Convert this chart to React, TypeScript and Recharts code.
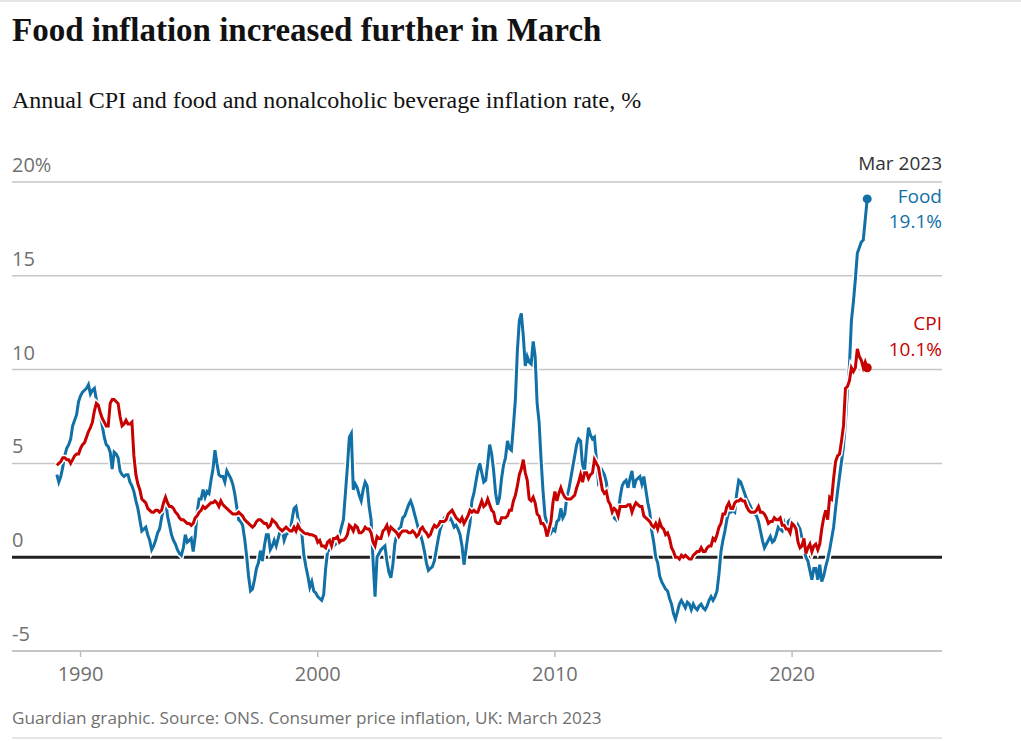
import { LineChart, Line, XAxis, YAxis, CartesianGrid, ReferenceLine } from 'recharts'

// Monthly annual rates, Jan 1989 – Mar 2023
const START_YEAR = 1989

const cpi = [
  4.9, 5.0, 5.1, 5.3, 5.3, 5.2, 5.2, 5.0, 5.2, 5.4, 5.5, 5.5, // 1989
  5.8, 6.0, 6.1, 6.4, 6.7, 6.9, 7.2, 7.8, 8.2, 8.1, 7.7, 7.4, // 1990
  7.2, 7.0, 7.0, 8.2, 8.4, 8.4, 8.3, 8.2, 7.5, 7.0, 7.1, 7.3, // 1991
  7.1, 7.1, 7.2, 5.4, 4.4, 3.9, 3.6, 3.1, 3.0, 2.9, 2.6, 2.5, // 1992
  2.4, 2.4, 2.5, 2.5, 2.4, 2.5, 2.9, 3.2, 2.9, 2.7, 2.7, 2.6, // 1993
  2.4, 2.3, 2.1, 2.0, 2.0, 1.9, 1.8, 1.8, 1.7, 1.8, 2.1, 2.2, // 1994
  2.4, 2.5, 2.7, 2.6, 2.7, 2.8, 2.9, 2.9, 3.0, 2.9, 2.7, 3.0, // 1995
  2.8, 2.7, 2.6, 2.5, 2.4, 2.3, 2.3, 2.3, 2.4, 2.3, 2.2, 2.0, // 1996
  1.9, 1.8, 1.7, 1.6, 1.7, 1.9, 2.0, 2.0, 1.9, 1.8, 1.8, 1.6, // 1997
  1.7, 2.0, 1.9, 1.8, 1.6, 1.5, 1.4, 1.5, 1.6, 1.5, 1.4, 1.4, // 1998
  1.6, 1.4, 1.7, 1.5, 1.4, 1.3, 1.25, 1.25, 1.2, 1.2, 1.15, 1.1, // 1999
  0.8, 0.9, 0.6, 0.6, 0.5, 0.8, 0.9, 0.6, 1.0, 1.0, 1.1, 0.8, // 2000
  0.9, 0.9, 1.0, 1.2, 1.7, 1.6, 1.4, 1.7, 1.6, 1.3, 1.3, 1.4, // 2001
  1.6, 1.5, 1.5, 1.3, 0.8, 0.6, 1.1, 1.0, 1.0, 1.4, 1.5, 1.7, // 2002
  1.3, 1.6, 1.5, 1.4, 1.3, 1.1, 1.3, 1.4, 1.4, 1.4, 1.3, 1.3, // 2003
  1.4, 1.3, 1.1, 1.2, 1.5, 1.6, 1.4, 1.3, 1.1, 1.2, 1.5, 1.7, // 2004
  1.6, 1.7, 1.9, 1.9, 1.9, 2.0, 2.3, 2.4, 2.5, 2.3, 2.1, 2.0, // 2005
  1.9, 2.1, 1.8, 2.0, 2.2, 2.5, 2.4, 2.5, 2.4, 2.4, 2.7, 3.0, // 2006
  2.7, 2.8, 3.1, 2.8, 2.5, 2.4, 1.9, 1.8, 1.8, 2.1, 2.1, 2.1, // 2007
  2.2, 2.5, 2.5, 3.0, 3.3, 3.8, 4.4, 4.7, 5.2, 4.5, 4.1, 3.1, // 2008
  3.0, 3.2, 2.9, 2.3, 2.2, 1.8, 1.8, 1.6, 1.1, 1.5, 1.9, 2.9, // 2009
  3.5, 3.0, 3.4, 3.7, 3.4, 3.2, 3.1, 3.1, 3.1, 3.2, 3.3, 3.7, // 2010
  4.0, 4.4, 4.0, 4.5, 4.5, 4.2, 4.4, 4.5, 5.2, 5.0, 4.8, 4.2, // 2011
  3.6, 3.4, 3.5, 3.0, 2.8, 2.4, 2.6, 2.5, 2.2, 2.7, 2.7, 2.7, // 2012
  2.7, 2.8, 2.8, 2.4, 2.7, 2.9, 2.8, 2.7, 2.7, 2.2, 2.1, 2.0, // 2013
  1.9, 1.7, 1.6, 1.8, 1.5, 1.9, 1.6, 1.5, 1.2, 1.3, 1.0, 0.5, // 2014
  0.3, 0.0, 0.0, -0.1, 0.1, 0.0, 0.1, 0.0, -0.1, -0.1, 0.1, 0.2, // 2015
  0.3, 0.3, 0.5, 0.3, 0.3, 0.5, 0.6, 0.6, 1.0, 0.9, 1.2, 1.6, // 2016
  1.8, 2.3, 2.3, 2.7, 2.9, 2.6, 2.6, 2.9, 3.0, 3.0, 3.1, 3.0, // 2017
  3.0, 2.7, 2.5, 2.4, 2.4, 2.4, 2.5, 2.7, 2.4, 2.4, 2.3, 2.1, // 2018
  1.8, 1.9, 1.9, 2.1, 2.0, 2.0, 2.1, 1.7, 1.7, 1.5, 1.5, 1.3, // 2019
  1.8, 1.7, 1.5, 0.8, 0.5, 0.6, 1.0, 0.2, 0.5, 0.7, 0.3, 0.6, // 2020
  0.7, 0.4, 0.7, 1.5, 2.1, 2.5, 2.0, 3.2, 3.1, 4.2, 5.1, 5.4, // 2021
  5.5, 6.2, 7.0, 9.0, 9.1, 9.4, 10.1, 9.9, 10.1, 11.1, 10.7, 10.5, // 2022
  10.1, 10.4, 10.1, // 2023
]

const food = [
  4.4, 4.0, 4.3, 4.8, 5.4, 5.8, 6.0, 6.3, 7.0, 7.3, 7.6, 8.3, // 1989
  8.6, 8.8, 8.9, 9.0, 9.2, 8.7, 8.9, 9.0, 8.4, 8.0, 7.6, 7.0, // 1990
  6.4, 6.0, 5.9, 5.6, 4.7, 5.6, 5.5, 5.3, 4.6, 4.4, 4.3, 4.4, // 1991
  4.4, 4.0, 3.8, 3.5, 3.0, 2.6, 2.0, 1.4, 1.5, 1.6, 1.2, 0.9, // 1992
  0.4, 0.6, 0.9, 1.3, 1.5, 2.1, 2.6, 3.1, 2.2, 1.7, 1.2, 0.9, // 1993
  0.7, 0.4, 0.2, 0.1, 0.5, 1.2, 0.8, 0.9, 1.0, 0.3, 1.1, 2.4, // 1994
  3.1, 3.1, 3.6, 3.2, 3.5, 3.4, 4.1, 4.7, 5.7, 5.0, 4.4, 4.3, // 1995
  4.3, 4.0, 4.6, 4.4, 4.2, 3.9, 3.4, 2.7, 2.0, 1.9, 1.7, 1.0, // 1996
  0.1, -1.0, -1.8, -1.7, -1.2, -0.6, -0.3, 0.35, -0.2, 0.6, 1.2, 1.2, // 1997
  0.4, 0.6, 0.9, 0.6, 1.0, 1.4, 1.5, 0.9, 1.2, 1.3, 1.4, 2.0, // 1998
  2.6, 2.7, 2.1, 1.6, 1.2, 0.1, -0.5, -1.0, -1.6, -1.3, -1.8, -1.9, // 1999
  -2.1, -2.2, -2.3, -2.0, -0.6, 0.3, 0.4, 0.5, 0.6, 0.7, 1.0, 1.2, // 2000
  1.6, 2.0, 3.4, 4.8, 6.4, 6.6, 3.6, 3.9, 3.7, 3.3, 3.0, 3.6, // 2001
  4.0, 3.8, 2.7, 2.0, -0.2, -2.1, 0.0, 0.2, 0.4, 0.5, 0.6, -0.2, // 2002
  -0.8, -1.1, -0.4, 0.7, 1.2, 1.5, 1.6, 2.1, 2.2, 2.5, 2.8, 3.0, // 2003
  2.7, 2.3, 1.9, 1.5, 1.2, 0.8, 0.3, -0.3, -0.7, -0.6, -0.5, -0.2, // 2004
  0.4, 1.0, 1.5, 1.8, 2.1, 2.2, 2.0, 2.1, 1.9, 1.6, 1.7, 1.5, // 2005
  1.2, 0.6, -0.4, 0.4, 1.2, 1.8, 3.0, 3.4, 4.0, 4.6, 5.0, 4.5, // 2006
  4.0, 4.1, 5.0, 6.0, 5.5, 4.6, 3.4, 2.8, 3.2, 4.2, 4.9, 5.3, // 2007
  6.2, 5.8, 5.7, 7.0, 8.4, 11.0, 12.6, 13.0, 11.8, 10.2, 10.7, 10.4, // 2008
  10.3, 11.5, 10.7, 8.2, 7.2, 5.2, 3.5, 2.2, 1.8, 1.6, 1.3, 1.5, // 2009
  1.4, 1.9, 2.0, 2.6, 2.1, 2.3, 3.2, 3.6, 4.2, 4.8, 5.4, 6.0, // 2010
  6.3, 6.2, 4.8, 4.6, 5.9, 6.9, 6.5, 6.3, 6.4, 5.2, 4.0, 4.2, // 2011
  4.6, 4.4, 4.0, 3.2, 2.7, 2.2, 2.1, 2.0, 2.4, 3.2, 3.8, 4.0, // 2012
  4.1, 3.7, 4.2, 4.6, 3.7, 4.1, 4.2, 4.3, 3.9, 4.3, 3.6, 2.9, // 2013
  2.4, 1.4, 0.8, 0.0, -0.3, -1.0, -1.3, -1.5, -1.7, -1.8, -2.2, -2.5, // 2014
  -3.0, -3.3, -2.9, -2.5, -2.3, -2.5, -2.7, -2.4, -2.5, -2.8, -2.5, -2.7, // 2015
  -2.8, -2.6, -2.5, -2.7, -2.8, -2.6, -2.3, -2.1, -2.3, -2.1, -1.8, -0.9, // 2016
  0.3, 0.9, 1.4, 2.0, 2.4, 2.4, 2.5, 2.4, 3.4, 4.1, 4.0, 3.7, // 2017
  3.4, 3.1, 2.9, 2.7, 2.4, 2.3, 2.2, 1.9, 1.4, 0.9, 0.5, 0.7, // 2018
  0.9, 1.1, 0.8, 0.9, 1.2, 1.6, 1.5, 1.4, 1.8, 1.4, 1.9, 2.0, // 2019
  1.8, 1.4, 1.3, 1.7, 1.5, 1.0, 0.4, 0.0, -0.2, -0.7, -1.2, -0.6, // 2020
  -0.6, -1.2, -0.4, -1.3, -1.0, -0.5, -0.1, 0.4, 1.0, 1.6, 2.6, 3.5, // 2021
  4.3, 5.1, 5.9, 7.2, 8.9, 10.2, 12.6, 13.6, 14.8, 16.2, 16.5, 16.8, // 2022
  16.9, 18.0, 19.1, // 2023
]

const yTicks = [-5, 0, 5, 10, 15, 20]
const xTicks = [1990, 2000, 2010, 2020]

const BLUE = '#1170a6'
const RED = '#c70000'
const GREY = '#707070'
const SANS = '"Open Sans", sans-serif'
const SERIF = '"Liberation Serif", serif'

const data = cpi.map((v, i) => ({ t: START_YEAR + i / 12, cpi: v, food: food[i] }))
const last = data.length - 1

const endDot = (color: string) => (props: any) =>
  props.index === last ? (
    <circle key="end" cx={props.cx} cy={props.cy} r={4.5} fill={color} />
  ) : (
    <g key={`d-${props.index}`} />
  )

const renderYTick = (props: any) => {
  const v = props.payload?.value
  return (
    <text key={`yt-${v}`} x={12} y={props.y - 10} fill={GREY} fontSize={20} fontFamily={SANS} textAnchor="start">
      {v === 20 ? '20%' : v}
    </text>
  )
}

export default function App() {
  return (
    <div style={{ position: 'absolute', left: 0, top: 0, width: 1021, height: 741, background: '#fff' }}>
      <LineChart width={1021} height={741} data={data} margin={{ top: 182, right: 79, left: 11, bottom: 0 }}>
        <CartesianGrid horizontal vertical={false} stroke="#c6c6c6" strokeWidth={1.5} />
        <XAxis
          dataKey="t"
          type="number"
          domain={[1987.11, 2026.32]}
          allowDataOverflow
          ticks={xTicks}
          height={90}
          axisLine={{ stroke: '#c6c6c6', strokeWidth: 2 }}
          tickLine={{ stroke: '#bdbdbd', strokeWidth: 1.5 }}
          tickSize={6}
          tickMargin={10}
          tick={{ fill: GREY, fontSize: 20, fontFamily: SANS }}
        />
        <YAxis
          type="number"
          domain={[-5, 20]}
          ticks={yTicks}
          width={1}
          axisLine={false}
          tickLine={false}
          tick={renderYTick}
        />
        <ReferenceLine y={0} stroke="#222" strokeWidth={3} />
        <Line dataKey="food" stroke="#fff" strokeWidth={6} dot={false} isAnimationActive={false} />
        <Line dataKey="food" stroke={BLUE} strokeWidth={3} dot={endDot(BLUE)} isAnimationActive={false} />
        <Line dataKey="cpi" stroke="#fff" strokeWidth={6} dot={false} isAnimationActive={false} />
        <Line dataKey="cpi" stroke={RED} strokeWidth={3} dot={endDot(RED)} isAnimationActive={false} />
      </LineChart>
      <svg width={1021} height={741} style={{ position: 'absolute', left: 0, top: 0, pointerEvents: 'none' }}>
        <line x1={0} x2={1021} y1={1} y2={1} stroke="#dcdcdc" strokeWidth={1.5} />
        <text x={12} y={41} fontFamily={SERIF} fontWeight={700} fontSize={33} fill="#121212">
          Food inflation increased further in March
        </text>
        <text x={12} y={108} fontFamily={SERIF} fontSize={24} fill="#121212">
          Annual CPI and food and nonalcoholic beverage inflation rate, %
        </text>
        <text x={942} y={170} textAnchor="end" fontFamily={SANS} fontSize={19} fill="#333">
          Mar 2023
        </text>
        <text x={942} y={203} textAnchor="end" fontFamily={SANS} fontSize={19} fontWeight={500} fill={BLUE}>
          Food
        </text>
        <text x={942} y={228} textAnchor="end" fontFamily={SANS} fontSize={19} fontWeight={500} fill={BLUE}>
          19.1%
        </text>
        <text x={942} y={330} textAnchor="end" fontFamily={SANS} fontSize={19} fontWeight={500} fill={RED}>
          CPI
        </text>
        <text x={942} y={356} textAnchor="end" fontFamily={SANS} fontSize={19} fontWeight={500} fill={RED}>
          10.1%
        </text>
        <text x={12} y={724} fontFamily={SANS} fontSize={17.2} fill={GREY}>
          Guardian graphic. Source: ONS. Consumer price inflation, UK: March 2023
        </text>
        <line x1={12} x2={942} y1={738} y2={738} stroke="#dcdcdc" strokeWidth={1.5} />
      </svg>
    </div>
  )
}
